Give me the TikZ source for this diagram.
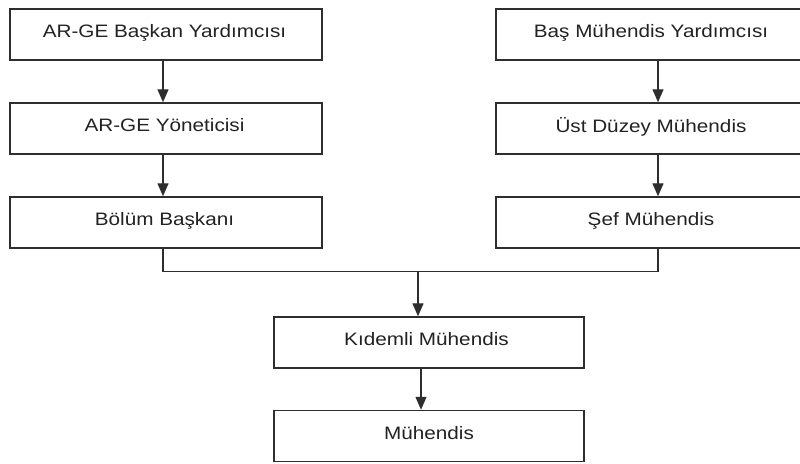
\documentclass[tikz,border=0pt]{standalone}
\usepackage{fontspec}
\setmainfont{Liberation Sans}[FakeStretch=1.15]
\usetikzlibrary{arrows.meta,calc}
\definecolor{linegray}{HTML}{2E2E2E}
\definecolor{textgray}{HTML}{222222}
\begin{document}
\begin{tikzpicture}[x=1pt,y=-1pt,
  rolebox/.style={draw=linegray,line width=1.5pt,fill=white,minimum height=51pt,
    inner sep=0pt,font=\fontsize{18}{21}\selectfont,text=textgray,text depth=7pt,
    anchor=center},
  link/.style={draw=linegray,line width=1.4pt},
  flow/.style={link,-{Triangle[length=13pt,width=11pt]}}]
\clip (0,0) rectangle (800,463);
\fill[white] (0,0) rectangle (800,463);

% left chain
\node[rolebox,minimum width=312pt] (l1) at (166,34.5) {\hspace*{-3pt}AR-GE Başkan Yardımcısı};
\node[rolebox,minimum width=312pt] (l2) at (166,128.5) {\hspace*{-3pt}AR-GE Yöneticisi};
\node[rolebox,minimum width=312pt] (l3) at (166,222.5) {\hspace*{-3pt}Bölüm Başkanı};

% right chain
\node[rolebox,minimum width=324pt] (r1) at (658,34.5) {\hspace*{-14pt}Baş Mühendis Yardımcısı};
\node[rolebox,minimum width=324pt] (r2) at (658,128.5) {\hspace*{-14pt}Üst Düzey Mühendis};
\node[rolebox,minimum width=324pt] (r3) at (658,222.5) {\hspace*{-14pt}Şef Mühendis};

% common lower chain
\node[rolebox,minimum width=310pt] (k) at (429,342.5) {\hspace*{-5pt}Kıdemli Mühendis};
\node[rolebox,minimum width=310pt] (m) at (429,436) {Mühendis};

% connectors
\draw[flow] ([xshift=-3pt]l1.south) -- ([xshift=-3pt]l2.north);
\draw[flow] ([xshift=-3pt]l2.south) -- ([xshift=-3pt]l3.north);
\draw[flow] (r1.south) -- (r2.north);
\draw[flow] (r2.south) -- (r3.north);

\coordinate (join) at ($(k.north)+(-11,-45)$);
\draw[link] ([xshift=-3pt]l3.south) |- (join) -| (r3.south);
\draw[flow] (join) -- ([xshift=-11pt]k.north);
\draw[flow] ([xshift=-8pt]k.south) -- ([xshift=-8pt]m.north);
\end{tikzpicture}
\end{document}
